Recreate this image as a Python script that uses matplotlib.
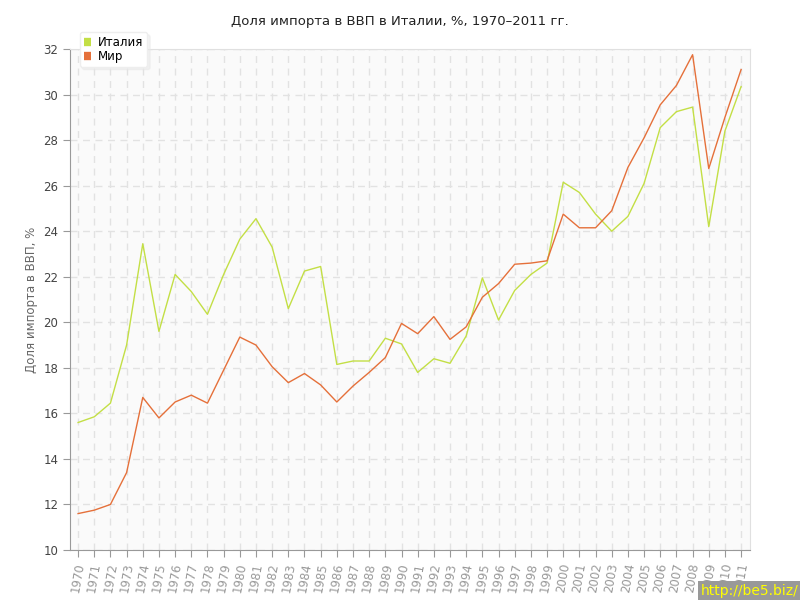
import numpy as np
import matplotlib.pyplot as plt

years = list(range(1970, 2012))
italy = [15.6, 15.85, 16.45, 19.0, 23.45, 19.6, 22.1, 21.35, 20.35, 22.1,
         23.65, 24.55, 23.3, 20.6, 22.25, 22.45, 18.15, 18.3, 18.3, 19.3,
         19.05, 17.8, 18.4, 18.2, 19.4, 21.95, 20.1, 21.4, 22.1, 22.6,
         26.15, 25.7, 24.75, 24.0, 24.65, 26.1, 28.55, 29.25, 29.45, 24.2,
         28.4, 30.35]
world = [11.6, 11.75, 12.0, 13.4, 16.7, 15.8, 16.5, 16.8, 16.45, 17.9,
         19.35, 19.0, 18.05, 17.35, 17.75, 17.25, 16.5, 17.2, 17.8, 18.45,
         19.95, 19.5, 20.25, 19.25, 19.8, 21.1, 21.7, 22.55, 22.6, 22.7,
         24.75, 24.15, 24.15, 24.9, 26.8, 28.1, 29.55, 30.4, 31.75, 26.75,
         29.0, 31.1]
names = ['Италия', 'Мир']
colors = ['#c3df45', '#e5703a']

fig = plt.figure(figsize=(8, 6), dpi=100)
ax = fig.add_axes([0.0875, 0.0833, 0.85, 0.835])
ax.set_facecolor('#fafafa')

ax.plot(years, italy, color=colors[0], lw=1, label=names[0])
ax.plot(years, world, color=colors[1], lw=1, label=names[1])

ax.set_xlim(1969.5, 2011.55)
ax.set_ylim(10, 32)
ax.set_xticks(years)
ax.set_xticklabels([str(y) for y in years], rotation=80, ha='center',
                   va='top', fontsize=8.5, color='#999999')
ax.set_yticks(np.arange(10, 33, 2))
ax.tick_params(axis='y', labelsize=8.5, labelcolor='#444444', color='#999999', length=5)
ax.tick_params(axis='x', color='#999999', length=5)
ax.grid(True, color='#e2e2e2', linestyle=(0, (5, 4)), lw=1)
ax.set_axisbelow(True)

for s in ['left', 'bottom']:
    ax.spines[s].set_color('#999999')
for s in ['right', 'top']:
    ax.spines[s].set_color('#e0e0e0')

ax.set_ylabel('Доля импорта в ВВП, %', fontsize=8.5, color='#666666')
fig.suptitle('Доля импорта в ВВП в Италии, %, 1970–2011 гг.', fontsize=9.5,
             color='#222222', y=0.975)

leg = ax.legend(loc='upper left', bbox_to_anchor=(0.014, 1.034), fontsize=8.5,
                handlelength=0.6, handleheight=0.6, handletextpad=0.6,
                borderpad=0.35, labelspacing=0.05, borderaxespad=0,
                frameon=True, fancybox=True, shadow={'color': '#e8e8e8', 'alpha': 0.5},
                framealpha=1, edgecolor='#eeeeee')
for h in leg.legend_handles:
    h.set_linewidth(6)
    h.set_solid_capstyle('butt')

fig.text(0.998, 0.003, 'http://be5.biz/', ha='right', va='bottom', fontsize=10,
         color='#ffff00', bbox=dict(facecolor='#999999', edgecolor='none', pad=2))

fig.savefig('out.png', dpi=100)
